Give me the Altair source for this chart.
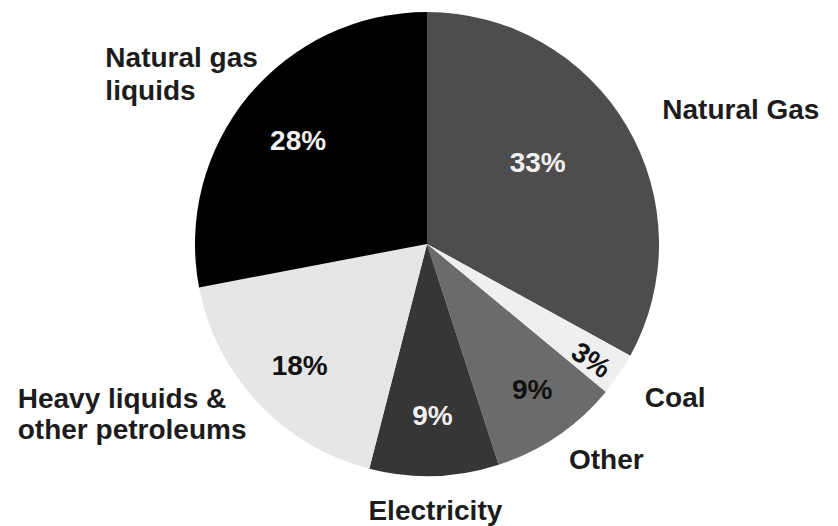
import altair as alt
import pandas as pd

# Shares of the energy mix, clockwise from 12 o'clock
categories = ["Natural Gas", "Coal", "Other", "Electricity",
              "Heavy liquids & other petroleums", "Natural gas liquids"]
shares = [33, 3, 9, 9, 18, 28]
names = ["Natural Gas", "Coal", "Other", "Electricity",
         "Heavy liquids &\nother petroleums", "Natural gas\nliquids"]
slice_colors = ["#4d4d4d", "#efefef", "#6b6b6b", "#363636", "#e6e6e6", "#000000"]

df = pd.DataFrame({
    "category": categories,
    "share": shares,
    "name": names,
    "idx": list(range(len(categories))),
})

CX, CY, R = 427, 244, 232
FONT = "Liberation Sans"
SIZE = 28
LIGHT, DARK = "#f0f0f0", "#111111"

# percentage labels: radius, dx, dy, colour, rotation
pct_layout = {
    "Natural Gas": (139, -9, -9, LIGHT, 0),
    "Coal": (204, -3, 5, DARK, 34),
    "Other": (180, 4, -1.5, DARK, 0),
    "Electricity": (172, 0, 1.5, LIGHT, 0),
    "Heavy liquids & other petroleums": (176, 1, 3, DARK, 0),
    "Natural gas liquids": (166, -1, 3.5, LIGHT, 0),
}
# category labels outside the pie: radius, dx, dy, alignment, line height
name_layout = {
    "Natural Gas": (271, 2, 5, "left", 32),
    "Coal": (267, -3, 5, "left", 32),
    "Other": (258, -3, 3.5, "left", 32),
    "Electricity": (266, 0, 2.5, "center", 32),
    "Heavy liquids & other petroleums": (250, -227, -15.5, "left", 31),
    "Natural gas liquids": (250, -129, -26, "left", 33),
}

base = alt.Chart(df).transform_window(
    cum="sum(share)", sort=[alt.SortField("idx")], frame=[None, 0]
).transform_joinaggregate(
    total="sum(share)"
).transform_calculate(
    t0="2 * PI * (datum.cum - datum.share) / datum.total",
    t1="2 * PI * datum.cum / datum.total",
    mid="PI * (2 * datum.cum - datum.share) / datum.total",
    pct="datum.share + '%'",
)

pie = base.mark_arc(radius=R).encode(
    theta=alt.Theta("t0:Q", scale=None),
    theta2="t1:Q",
    color=alt.Color("category:N",
                    scale=alt.Scale(domain=categories, range=slice_colors),
                    legend=None),
    x=alt.value(CX),
    y=alt.value(CY),
)

layers = [pie]
for cat, (rad, dx, dy, col, ang) in pct_layout.items():
    layers.append(
        base.transform_filter(alt.datum.category == cat).mark_text(
            radius=rad, dx=dx, dy=dy, color=col, angle=ang,
            font=FONT, fontSize=SIZE, fontWeight="bold",
            align="center", baseline="middle",
        ).encode(
            theta=alt.Theta("mid:Q", scale=None),
            text="pct:N",
            x=alt.value(CX),
            y=alt.value(CY),
        )
    )
for cat, (rad, dx, dy, al, lh) in name_layout.items():
    layers.append(
        base.transform_filter(alt.datum.category == cat).mark_text(
            radius=rad, dx=dx, dy=dy, color="#1c1c1c",
            font=FONT, fontSize=SIZE, fontWeight="bold",
            align=al, baseline="middle", lineBreak="\n", lineHeight=lh,
        ).encode(
            theta=alt.Theta("mid:Q", scale=None),
            text="name:N",
            x=alt.value(CX),
            y=alt.value(CY),
        )
    )

chart = alt.layer(*layers).properties(
    width=838, height=526,
    autosize=alt.AutoSizeParams(type="none"),
    padding=0,
    background="white",
).configure_view(stroke=None)

chart.save("out.html", embed_options={"renderer": "svg", "actions": False})
